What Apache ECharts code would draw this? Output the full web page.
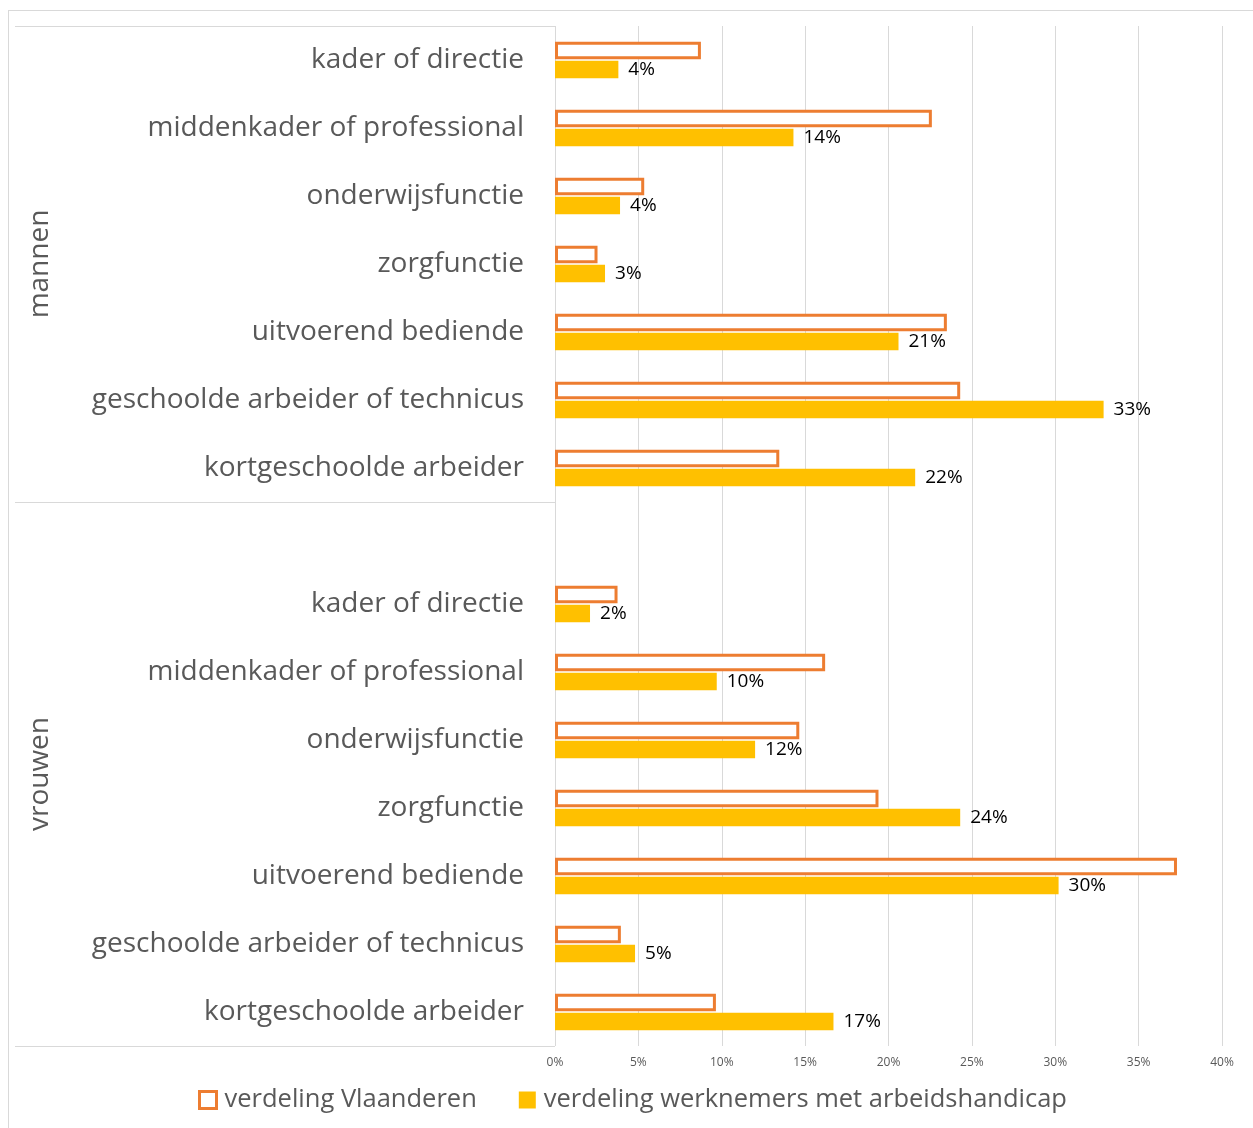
<!DOCTYPE html>
<html>
<head>
<meta charset="utf-8">
<script src="https://cdn.jsdelivr.net/npm/echarts@6/dist/echarts.min.js"></script>
<style>
  html, body { margin: 0; padding: 0; background: #ffffff; }
  #frame { position: absolute; left: 8px; top: 10px; width: 1300px; height: 1300px; border: 1px solid #d9d9d9; box-sizing: border-box; pointer-events: none; }
  #chart { position: absolute; left: 0; top: 0; width: 1253px; height: 1128px; }
</style>
</head>
<body>
<div id="frame"></div>
<div id="chart"></div>
<script>
// ---- data ----
const groupNames = ['mannen', 'vrouwen'];
const categoriesMannen = ['kader of directie', 'middenkader of professional', 'onderwijsfunctie', 'zorgfunctie', 'uitvoerend bediende', 'geschoolde arbeider of technicus', 'kortgeschoolde arbeider'];
const categoriesVrouwen = ['kader of directie', 'middenkader of professional', 'onderwijsfunctie', 'zorgfunctie', 'uitvoerend bediende', 'geschoolde arbeider of technicus', 'kortgeschoolde arbeider'];
const vlaanderenMannen = [8.75, 22.6, 5.35, 2.55, 23.5, 24.3, 13.45];
const handicapMannen = [3.8, 14.3, 3.9, 3.0, 20.6, 32.9, 21.6];
const vlaanderenVrouwen = [3.75, 16.2, 14.65, 19.4, 37.3, 3.95, 9.65];
const handicapVrouwen = [2.1, 9.7, 12.0, 24.3, 30.2, 4.8, 16.7];
const seriesNames = ['verdeling Vlaanderen', 'verdeling werknemers met arbeidshandicap'];
const xTicks = [0, 5, 10, 15, 20, 25, 30, 35, 40];

// ---- build ----
const cats = categoriesMannen.map(c => 'm|' + c).concat([' | '], categoriesVrouwen.map(c => 'v|' + c));
const vlaData = vlaanderenMannen.concat([null], vlaanderenVrouwen);
const handData = handicapMannen.concat([null], handicapVrouwen);
const groupStart = [0, categoriesMannen.length];
const FONT = 'Open Sans';

const chart = echarts.init(document.getElementById('chart'), null, { renderer: 'canvas' });
const option = {
  animation: false,
  textStyle: { fontFamily: FONT },
  grid: { left: 555, right: 31, top: 26, bottom: 82 },
  xAxis: {
    type: 'value',
    min: xTicks[0], max: xTicks[xTicks.length - 1], interval: xTicks[1] - xTicks[0],
    axisLine: { show: false }, axisTick: { show: false },
    axisLabel: { formatter: '{value}%', fontSize: 12, color: '#595959', margin: 11, fontFamily: FONT },
    splitLine: { show: true, lineStyle: { color: '#d9d9d9', width: 1 } }
  },
  yAxis: {
    type: 'category', inverse: true, data: cats,
    axisLine: { show: false },
    axisTick: {
      show: true, length: 540, inside: false,
      interval: function (idx) { return groupStart.indexOf(idx) >= 0; },
      lineStyle: { color: '#d9d9d9', width: 1 }
    },
    axisLabel: {
      interval: 0, fontSize: 28, color: '#595959', margin: 31, fontFamily: FONT,
      padding: [6, 0, 0, 0],
      formatter: function (v) { return v.split('|')[1]; }
    }
  },
  legend: {
    left: 193, top: 1082, itemWidth: 17, itemHeight: 17, itemGap: 42,
    icon: 'rect',
    textStyle: { fontSize: 25.5, color: '#595959', fontFamily: FONT, padding: [0, 0, 0, 3] },
    data: [
      { name: seriesNames[0], itemStyle: { color: '#ffffff', borderColor: '#ED7D31', borderWidth: 3 } },
      { name: seriesNames[1] }
    ]
  },
  series: [
    {
      name: seriesNames[0], type: 'bar', data: vlaData, barWidth: 17.5, barGap: '8%',
      itemStyle: { color: '#ffffff', borderColor: '#ED7D31', borderWidth: 3 }
    },
    {
      name: seriesNames[1], type: 'bar', data: handData, barWidth: 17.5, barGap: '8%',
      itemStyle: { color: '#FFC000' },
      label: {
        show: true, position: 'right', distance: 10, fontSize: 19, color: '#000000', fontFamily: FONT,
        formatter: function (p) { return p.value == null ? '' : Math.round(p.value) + '%'; }
      }
    }
  ]
};
chart.setOption(option);

// group labels positioned from the category axis
function groupCenter(startIdx, endIdx) {
  const a = chart.convertToPixel({ yAxisIndex: 0 }, cats[startIdx]);
  const b = chart.convertToPixel({ yAxisIndex: 0 }, cats[endIdx]);
  return (a + b) / 2;
}
const yM = groupCenter(0, categoriesMannen.length - 1);
const yV = groupCenter(categoriesMannen.length, cats.length - 1);
chart.setOption({
  graphic: groupNames.map(function (g, i) {
    return {
      type: 'text', x: 40, y: i === 0 ? yM : yV, rotation: Math.PI / 2,
      style: { text: g, fontSize: 28, fill: '#595959', fontFamily: FONT, align: 'center', verticalAlign: 'middle' }
    };
  })
});
</script>
</body>
</html>
